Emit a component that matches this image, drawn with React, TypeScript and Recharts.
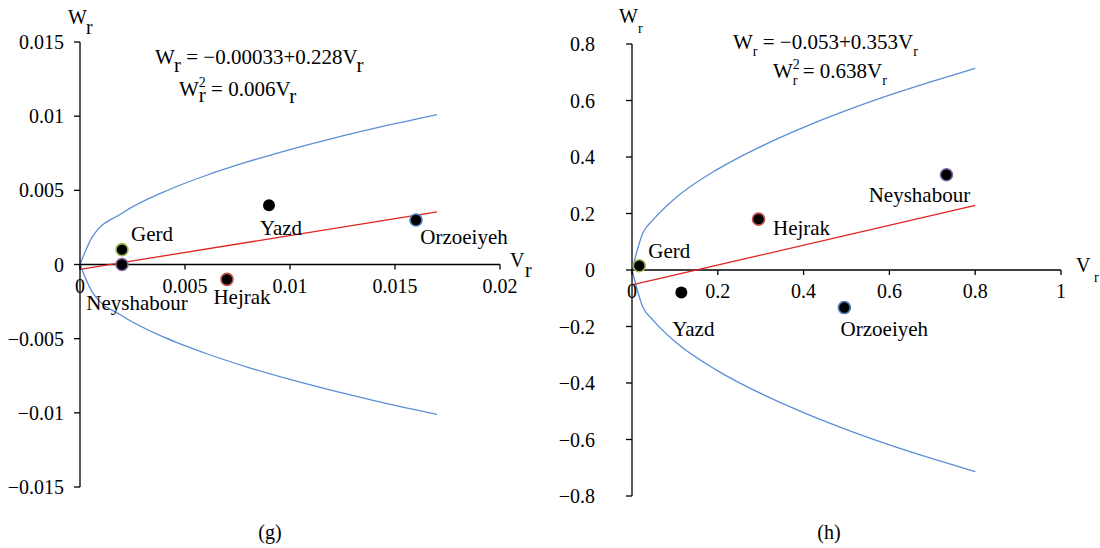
import React from 'react';
import { ComposedChart, Line, Scatter, XAxis, YAxis, ReferenceLine } from 'recharts';

const FONT = '"Liberation Serif", "Times New Roman", serif';

// ---------- Panel (g) data ----------
const sitesG = ['Gerd', 'Neyshabour', 'Hejrak', 'Yazd', 'Orzoeiyeh'];
const vrG = [0.002, 0.002, 0.007, 0.009, 0.016];
const wrG = [0.001, 0, -0.001, 0.004, 0.003];
const curveVG = [0, 0.0006, 0.002, 0.004, 0.006, 0.008, 0.01, 0.012, 0.014, 0.017];
const curveUpG = [0, 0.0019, 0.00346, 0.0049, 0.006, 0.00693, 0.00775, 0.00849, 0.00917, 0.0101];
const curveLowG = [0, -0.0019, -0.00346, -0.0049, -0.006, -0.00693, -0.00775, -0.00849, -0.00917, -0.0101];
const fitVG = [0, 0.017];
const fitWG = [-0.00033, 0.00355];
const xTicksG = [0, 0.005, 0.01, 0.015, 0.02];
const yTicksG = [-0.015, -0.01, -0.005, 0, 0.005, 0.01, 0.015];

// ---------- Panel (h) data ----------
const sitesH = ['Gerd', 'Yazd', 'Hejrak', 'Orzoeiyeh', 'Neyshabour'];
const vrH = [0.017, 0.115, 0.295, 0.495, 0.733];
const wrH = [0.015, -0.08, 0.18, -0.133, 0.337];
const curveVH = [0, 0.025, 0.05, 0.1, 0.2, 0.3, 0.4, 0.5, 0.6, 0.7, 0.8];
const curveUpH = [0, 0.13, 0.179, 0.253, 0.357, 0.437, 0.505, 0.565, 0.619, 0.668, 0.714];
const curveLowH = [0, -0.13, -0.179, -0.253, -0.357, -0.437, -0.505, -0.565, -0.619, -0.668, -0.714];
const fitVH = [0, 0.8];
const fitWH = [-0.053, 0.229];
const xTicksH = [0, 0.2, 0.4, 0.6, 0.8, 1];
const yTicksH = [-0.8, -0.6, -0.4, -0.2, 0, 0.2, 0.4, 0.6, 0.8];

// ---------- styles ----------
const siteStroke: Record<string, string> = {
  Gerd: '#9BBB59',
  Neyshabour: '#8064A2',
  Hejrak: '#C0504D',
  Yazd: 'none',
  Orzoeiyeh: '#4F81BD',
};
const labelOffsetG: Record<string, [number, number]> = {
  Gerd: [30, -16],
  Neyshabour: [15, 38],
  Hejrak: [15, 18],
  Yazd: [12, 23],
  Orzoeiyeh: [48, 17],
};
const labelOffsetH: Record<string, [number, number]> = {
  Gerd: [30, -15],
  Hejrak: [43, 9],
  Neyshabour: [-27, 20],
  Yazd: [12, 36],
  Orzoeiyeh: [40, 21],
};

const pairs = (xs: number[], ys: number[]) => xs.map((v, i) => ({ v, w: ys[i] }));
const fmt = (v: number) => (v === 0 ? '0' : (v < 0 ? '\u2212' : '') + String(Math.abs(v)));

const BLUE = '#5B8FD6';
const RED = '#E0241E';
const X_AXIS_H = 30;

function makeXTick(zeroY: number) {
  return (props: any) => {
    const { x, payload } = props;
    return (
      <g>
        <line x1={x} x2={x} y1={zeroY} y2={zeroY + 5} stroke="#000" strokeWidth={1.3} />
        <text x={x} y={zeroY + 28} textAnchor="middle" fontSize={20} fontFamily={FONT} fill="#000">
          {fmt(payload.value)}
        </text>
      </g>
    );
  };
}

function makeShape(offsets: Record<string, [number, number]>) {
  return (props: any) => {
    const { cx, cy, payload } = props;
    const name = payload.name as string;
    const [dx, dy] = offsets[name];
    const stroke = siteStroke[name];
    return (
      <g>
        <circle cx={cx} cy={cy} r={6} fill="#000" stroke={stroke} strokeWidth={stroke === 'none' ? 0 : 1.6} />
        <text
          x={cx + dx}
          y={cy + dy}
          textAnchor="middle"
          dominantBaseline="central"
          fontSize={21}
          fontFamily={FONT}
          fill="#000"
        >
          {name}
        </text>
      </g>
    );
  };
}

type PanelProps = {
  left: number;
  margin: { top: number; right: number; bottom: number; left: number };
  yWidth: number;
  tickMargin: number;
  xDomain: [number, number];
  yDomain: [number, number];
  xTicks: number[];
  yTicks: number[];
  zeroY: number;
  points: { v: number; w: number; name: string }[];
  up: { v: number; w: number }[];
  low: { v: number; w: number }[];
  fit: { v: number; w: number }[];
  offsets: Record<string, [number, number]>;
  overlay: React.ReactNode;
};

function Panel(p: PanelProps) {
  return (
    <div style={{ position: 'absolute', left: p.left, top: 0, width: 550, height: 548 }}>
      <ComposedChart width={550} height={548} margin={p.margin} style={{ overflow: 'visible' }}>
        <XAxis
          type="number"
          dataKey="v"
          domain={p.xDomain}
          ticks={p.xTicks}
          interval={0}
          axisLine={false}
          tickLine={false}
          height={X_AXIS_H}
          tick={makeXTick(p.zeroY)}
        />
        <YAxis
          type="number"
          dataKey="w"
          domain={p.yDomain}
          ticks={p.yTicks}
          interval={0}
          width={p.yWidth}
          tickSize={6}
          tickMargin={p.tickMargin}
          tickFormatter={fmt}
          axisLine={{ stroke: '#000', strokeWidth: 1.3 }}
          tickLine={{ stroke: '#000', strokeWidth: 1.3 }}
          tick={{ fontSize: 20, fontFamily: FONT, fill: '#000' }}
        />
        <ReferenceLine y={0} stroke="#000" strokeWidth={1.3} />
        <Line data={p.up} dataKey="w" type="monotone" stroke={BLUE} strokeWidth={1.3} dot={false} isAnimationActive={false} />
        <Line data={p.low} dataKey="w" type="monotone" stroke={BLUE} strokeWidth={1.3} dot={false} isAnimationActive={false} />
        <Line data={p.fit} dataKey="w" type="linear" stroke={RED} strokeWidth={1.3} dot={false} isAnimationActive={false} />
        <Scatter data={p.points} dataKey="w" shape={makeShape(p.offsets)} isAnimationActive={false} />
      </ComposedChart>
      <svg
        width={550}
        height={548}
        style={{ position: 'absolute', left: 0, top: 0, pointerEvents: 'none' }}
        fontFamily={FONT}
        fill="#000"
      >
        {p.overlay}
      </svg>
    </div>
  );
}

const overlayG = (
  <g fontSize={20}>
    <text x={68} y={24}>W</text>
    <text x={86} y={34}>r</text>
    <text x={510} y={267}>V</text>
    <text x={525} y={277}>r</text>
    <text x={155} y={64} fontSize={21}>
      W<tspan dy={8}>r</tspan>
      <tspan dy={-8}> = {'\u2212'}0.00033+0.228V</tspan>
      <tspan dy={8}>r</tspan>
    </text>
    <text x={179} y={96} fontSize={21}>
      W<tspan dy={-9} fontSize={14}>2</tspan>
      <tspan dx={-7} dy={15}>r</tspan>
      <tspan dy={-6}> = 0.006V</tspan>
      <tspan dy={7}>r</tspan>
    </text>
    <text x={270} y={539} textAnchor="middle">(g)</text>
  </g>
);

const overlayH = (
  <g fontSize={20}>
    <text x={69} y={23}>W</text>
    <text x={88} y={33} fontSize={14}>r</text>
    <text x={526} y={272}>V</text>
    <text x={544} y={282} fontSize={14}>r</text>
    <text x={183} y={49} fontSize={21}>
      W<tspan dy={7} fontSize={14}>r</tspan>
      <tspan dy={-7}> = {'\u2212'}0.053+0.353V</tspan>
      <tspan dy={7} fontSize={14}>r</tspan>
    </text>
    <text x={223} y={78} fontSize={21}>
      W<tspan dy={-9} fontSize={14}>2</tspan>
      <tspan dx={-7} dy={16} fontSize={14}>r</tspan>
      <tspan dy={-7}> = 0.638V</tspan>
      <tspan dy={7} fontSize={14}>r</tspan>
    </text>
    <text x={279} y={539} textAnchor="middle">(h)</text>
  </g>
);

export default function App() {
  const ptsG = sitesG.map((name, i) => ({ v: vrG[i], w: wrG[i], name }));
  const ptsH = sitesH.map((name, i) => ({ v: vrH[i], w: wrH[i], name }));
  return (
    <div style={{ position: 'absolute', left: 0, top: 0, width: 1100, height: 548, background: '#fff' }}>
      <Panel
        left={0}
        margin={{ top: 42, right: 50, bottom: 61 - X_AXIS_H, left: 0 }}
        yWidth={80}
        tickMargin={10}
        xDomain={[0, 0.02]}
        yDomain={[-0.015, 0.015]}
        xTicks={xTicksG}
        yTicks={yTicksG}
        zeroY={264.5}
        points={ptsG}
        up={pairs(curveVG, curveUpG)}
        low={pairs(curveVG, curveLowG)}
        fit={pairs(fitVG, fitWG)}
        offsets={labelOffsetG}
        overlay={overlayG}
      />
      <Panel
        left={550}
        margin={{ top: 44, right: 39, bottom: 52 - X_AXIS_H, left: 0 }}
        yWidth={82}
        tickMargin={31}
        xDomain={[0, 1]}
        yDomain={[-0.8, 0.8]}
        xTicks={xTicksH}
        yTicks={yTicksH}
        zeroY={270}
        points={ptsH}
        up={pairs(curveVH, curveUpH)}
        low={pairs(curveVH, curveLowH)}
        fit={pairs(fitVH, fitWH)}
        offsets={labelOffsetH}
        overlay={overlayH}
      />
    </div>
  );
}
